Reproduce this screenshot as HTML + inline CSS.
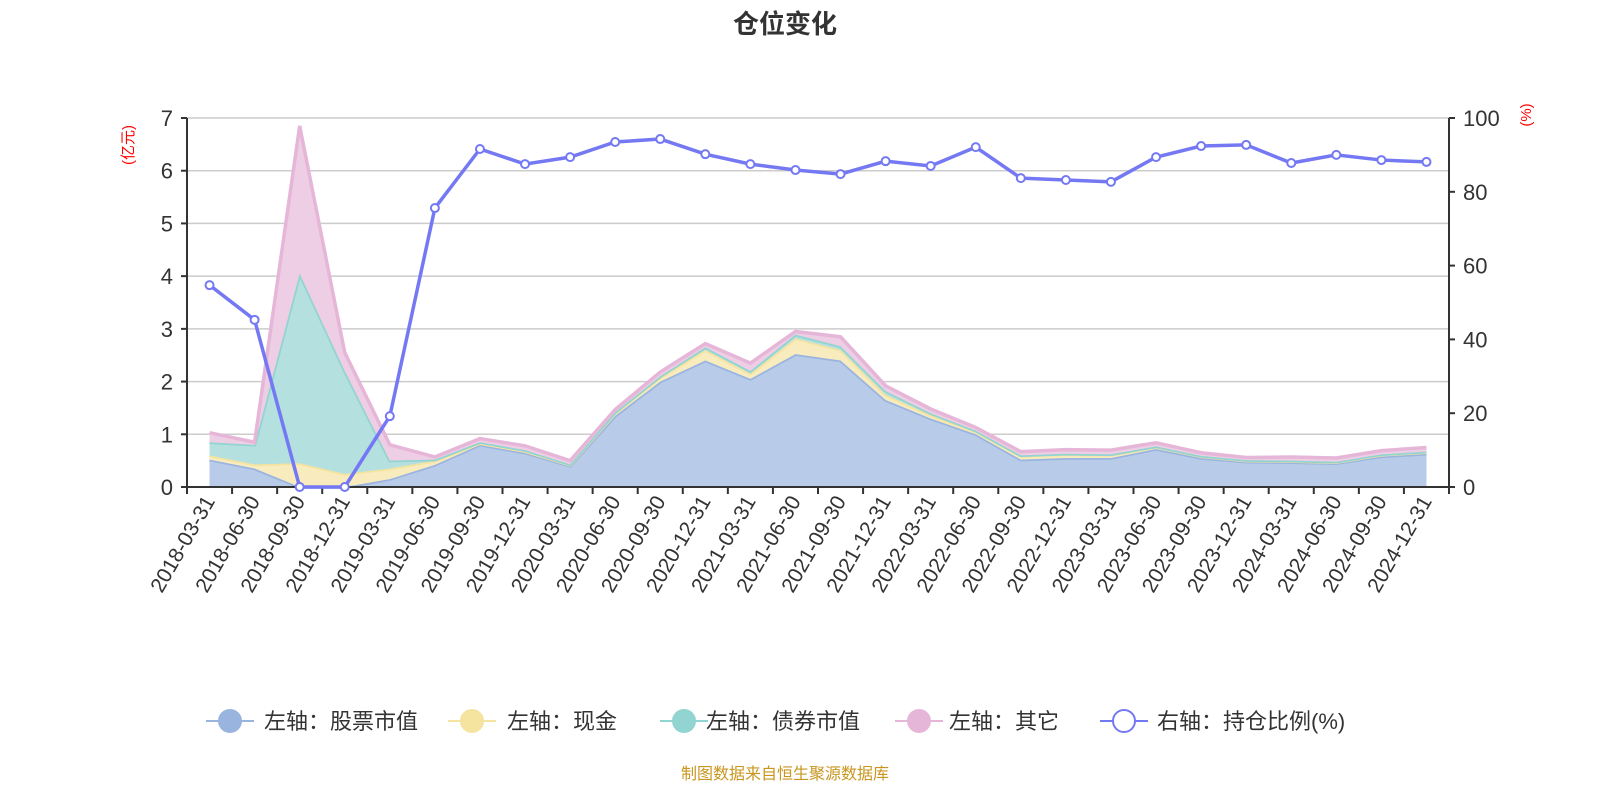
<!DOCTYPE html>
<html><head><meta charset="utf-8"><style>
body{margin:0;width:1600px;height:800px;background:#fff;overflow:hidden;font-family:"Liberation Sans","Noto Sans CJK SC",sans-serif;}
svg text{font-family:"Liberation Sans","Noto Sans CJK SC",sans-serif;}
</style></head><body>
<svg id="c" width="1600" height="800">
<text x="785" y="33" text-anchor="middle" font-size="26" font-weight="bold" fill="#333">仓位变化</text>
<text transform="translate(133,145) rotate(-90)" text-anchor="middle" font-size="15" fill="#f00">(亿元)</text>
<text transform="translate(1531,115) rotate(-90)" text-anchor="middle" font-size="15" fill="#f00">(%)</text>
<g id="grid"></g><g id="areas"></g><g id="axes"></g><g id="line"></g><g id="legend"></g>
<text x="785" y="779" text-anchor="middle" font-size="16" fill="#c8961e">制图数据来自恒生聚源数据库</text>
</svg>
<script>
const categories=["2018-03-31","2018-06-30","2018-09-30","2018-12-31","2019-03-31","2019-06-30","2019-09-30","2019-12-31","2020-03-31","2020-06-30","2020-09-30","2020-12-31","2021-03-31","2021-06-30","2021-09-30","2021-12-31","2022-03-31","2022-06-30","2022-09-30","2022-12-31","2023-03-31","2023-06-30","2023-09-30","2023-12-31","2024-03-31","2024-06-30","2024-09-30","2024-12-31"];
const stockValues=[0.52,0.35,0.0,0.0,0.15,0.42,0.8,0.65,0.4,1.35,2.0,2.4,2.05,2.52,2.4,1.65,1.3,1.0,0.52,0.55,0.55,0.72,0.55,0.48,0.47,0.45,0.58,0.63];
const cashValues=[0.08,0.08,0.45,0.25,0.2,0.08,0.03,0.03,0.02,0.05,0.08,0.2,0.1,0.3,0.2,0.1,0.06,0.05,0.07,0.07,0.06,0.04,0.03,0.02,0.02,0.02,0.03,0.03];
const bondValues=[0.25,0.37,3.6,1.95,0.15,0.02,0.02,0.02,0.01,0.02,0.02,0.05,0.05,0.07,0.07,0.07,0.04,0.02,0.01,0.01,0.01,0.01,0.01,0.01,0.01,0.01,0.01,0.01];
const otherValues=[0.18,0.05,2.8,0.35,0.3,0.05,0.07,0.08,0.07,0.05,0.08,0.07,0.15,0.06,0.18,0.1,0.08,0.06,0.07,0.08,0.08,0.07,0.06,0.05,0.07,0.07,0.07,0.08];
const ratioValues=[54.7,45.3,0,0,19.2,75.6,91.6,87.5,89.4,93.5,94.3,90.2,87.5,85.9,84.8,88.3,87,92.1,83.7,83.2,82.7,89.4,92.4,92.7,87.8,90,88.6,88.1];
const leftTicks=[0,1,2,3,4,5,6,7];
const rightTicks=[0,20,40,60,80,100];
const NS="http://www.w3.org/2000/svg";
const X0=187,X1=1449,Y0=487,Y1=118;
const bw=(X1-X0)/categories.length;
const xc=i=>X0+bw*(i+0.5);
const yl=v=>Y0-(v/7)*(Y0-Y1);
const yr=v=>Y0-(v/100)*(Y0-Y1);
function mk(t,a,p){const e=document.createElementNS(NS,t);for(const k in a)e.setAttribute(k,a[k]);p.appendChild(e);return e;}
const grid=document.getElementById('grid'),axes=document.getElementById('axes'),areas=document.getElementById('areas'),line=document.getElementById('line'),legend=document.getElementById('legend');
leftTicks.forEach(v=>{
 if(v>0){const g=mk('line',{x1:X0,x2:X1,y1:yl(v),y2:yl(v),stroke:'#ccc','stroke-width':1.5},grid);
 
 }
 const t=mk('text',{x:X0-14,y:yl(v)+8,'text-anchor':'end','font-size':22,fill:'#333'},axes);t.textContent=v;
 
 
 mk('line',{x1:X0-6,x2:X0,y1:yl(v),y2:yl(v),stroke:'#333','stroke-width':2},axes);
});
rightTicks.forEach(v=>{
 const t=mk('text',{x:X1+14,y:yr(v)+8,'font-size':22,fill:'#333'},axes);t.textContent=v;
 
 
 mk('line',{x1:X1,x2:X1+6,y1:yr(v),y2:yr(v),stroke:'#333','stroke-width':2},axes);
});
mk('line',{x1:X0,x2:X0,y1:Y1,y2:Y0,stroke:'#333','stroke-width':2},axes);
mk('line',{x1:X1,x2:X1,y1:Y1,y2:Y0,stroke:'#333','stroke-width':2},axes);
mk('line',{x1:X0,x2:X1,y1:Y0,y2:Y0,stroke:'#333','stroke-width':2},axes);
for(let i=0;i<=categories.length;i++)mk('line',{x1:X0+bw*i,x2:X0+bw*i,y1:Y0,y2:Y0+7,stroke:'#333','stroke-width':2},axes);
categories.forEach((c,i)=>{
 const t=mk('text',{transform:`translate(${xc(i)+6},${Y0+14}) rotate(-60)`,'text-anchor':'end','font-size':21,fill:'#333'},axes);t.textContent=c;
 
 
});
const series=[[stockValues,'#b8cce9','#9ab4e0','stock-area'],[cashValues,'#f8ebbd','#f5e3a0','cash-area'],[bondValues,'#b5e0e0','#92d4d1','bond-area'],[otherValues,'#eecee4','#e6b6d8','other-area']];
let base=categories.map(()=>0);
series.forEach(([vals,fill,stroke,name])=>{
 const top=base.map((b,i)=>b+vals[i]);
 let d='M'+top.map((v,i)=>xc(i)+','+yl(v)).join('L');
 for(let i=base.length-1;i>=0;i--)d+='L'+xc(i)+','+yl(base[i]);
 const p=mk('path',{d:d+'Z',fill:fill},areas);
 
 
 const l=mk('polyline',{points:top.map((v,i)=>xc(i)+','+yl(v)).join(' '),fill:'none',stroke:stroke,'stroke-width':3.5},areas);
 
 
 base=top;
});
const pl=mk('polyline',{points:ratioValues.map((v,i)=>xc(i)+','+yr(v)).join(' '),fill:'none',stroke:'#7479f3','stroke-width':3.5},line);


ratioValues.forEach((v,i)=>{
 const c=mk('circle',{cx:xc(i),cy:yr(v),r:4,fill:'#fff',stroke:'#7479f3','stroke-width':2},line);
 
 
});
const leg=[[230,264,'#9ab4e0','#9ab4e0','左轴：股票市值'],[472,507,'#f5e3a0','#f5e3a0','左轴：现金'],[684,706,'#92d4d1','#92d4d1','左轴：债券市值'],[919,949,'#e6b6d8','#e6b6d8','左轴：其它'],[1124,1157,'#fff','#7479f3','右轴：持仓比例(%)']];
leg.forEach(([cx,tx,fill,stroke,label])=>{
 const g=mk('g',{},legend);
 
 
 mk('line',{x1:cx-24,x2:cx+24,y1:721,y2:721,stroke:stroke,'stroke-width':2},g);
 mk('circle',{cx:cx,cy:721,r:11,fill:fill,stroke:stroke,'stroke-width':2},g);
 const t=mk('text',{x:tx,y:729,'font-size':22,fill:'#333'},g);t.textContent=label;
});
</script>
</body></html>
